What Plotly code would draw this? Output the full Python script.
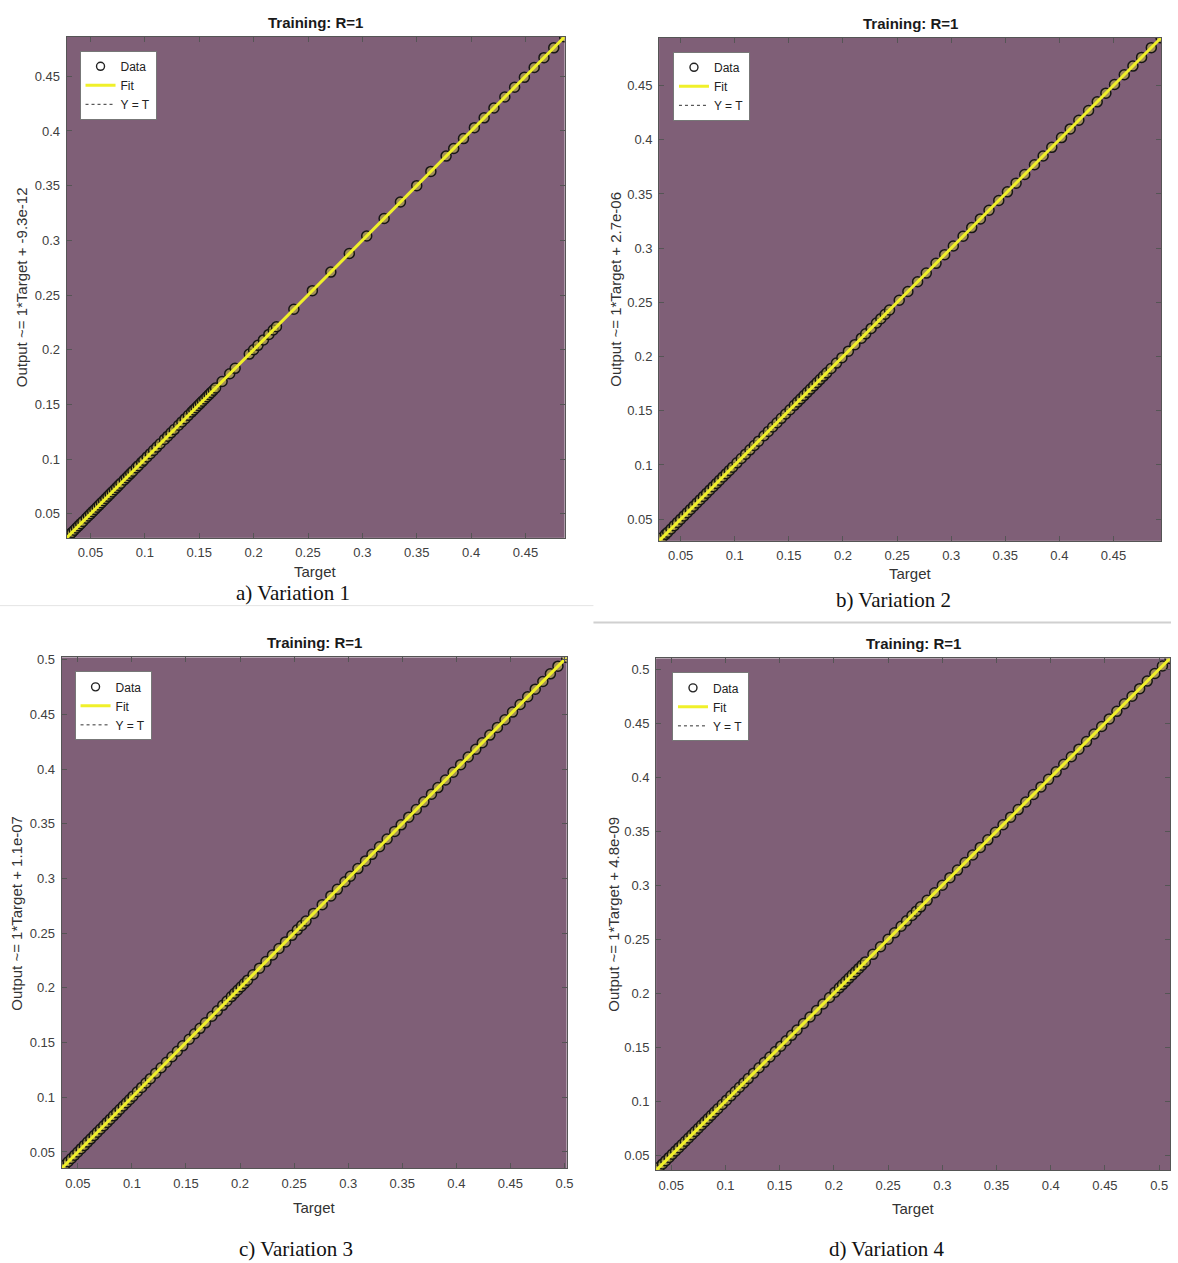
import plotly.graph_objects as go

# ---------------- data ----------------
targets_a = [0.028, 0.031, 0.033, 0.035, 0.037, 0.039, 0.041, 0.043, 0.046, 0.048, 0.050, 0.052,
             0.054, 0.056, 0.058, 0.060, 0.062, 0.064, 0.066, 0.068, 0.070, 0.072, 0.074, 0.076,
             0.078, 0.081, 0.083, 0.085, 0.087, 0.089, 0.092, 0.094, 0.097, 0.099, 0.102, 0.105,
             0.108, 0.111, 0.114, 0.118, 0.121, 0.124, 0.127, 0.131, 0.134, 0.137, 0.140, 0.143,
             0.145, 0.147, 0.149, 0.151, 0.153, 0.155, 0.157, 0.159, 0.161, 0.163, 0.165, 0.171,
             0.178, 0.183, 0.196, 0.200, 0.204, 0.209, 0.214, 0.218, 0.221, 0.237, 0.254, 0.271,
             0.288, 0.304, 0.320, 0.335, 0.350, 0.363, 0.377, 0.384, 0.393, 0.403, 0.412, 0.421,
             0.431, 0.440, 0.449, 0.458, 0.467, 0.476, 0.486]
targets_b = [0.030, 0.033, 0.036, 0.038, 0.041, 0.044, 0.047, 0.050, 0.053, 0.056, 0.059, 0.062,
             0.065, 0.068, 0.071, 0.074, 0.077, 0.080, 0.083, 0.086, 0.089, 0.092, 0.095, 0.098,
             0.102, 0.106, 0.110, 0.114, 0.118, 0.122, 0.127, 0.131, 0.135, 0.139, 0.143, 0.147,
             0.151, 0.155, 0.158, 0.161, 0.164, 0.167, 0.170, 0.173, 0.176, 0.179, 0.182, 0.185,
             0.189, 0.194, 0.199, 0.205, 0.211, 0.217, 0.221, 0.226, 0.231, 0.235, 0.239, 0.243,
             0.252, 0.260, 0.269, 0.277, 0.286, 0.294, 0.302, 0.311, 0.319, 0.327, 0.335, 0.344,
             0.352, 0.360, 0.368, 0.377, 0.385, 0.393, 0.402, 0.410, 0.418, 0.427, 0.435, 0.443,
             0.451, 0.460, 0.468, 0.476, 0.485, 0.494]
targets_c = [0.035, 0.038, 0.041, 0.044, 0.047, 0.050, 0.053, 0.056, 0.059, 0.062, 0.065, 0.068,
             0.071, 0.074, 0.077, 0.080, 0.083, 0.086, 0.089, 0.092, 0.095, 0.098, 0.101, 0.105,
             0.109, 0.113, 0.117, 0.122, 0.127, 0.132, 0.137, 0.142, 0.147, 0.153, 0.158, 0.163,
             0.168, 0.174, 0.179, 0.184, 0.188, 0.192, 0.195, 0.198, 0.201, 0.204, 0.207, 0.212,
             0.218, 0.224, 0.230, 0.236, 0.242, 0.248, 0.253, 0.257, 0.261, 0.268, 0.276, 0.284,
             0.290, 0.297, 0.302, 0.309, 0.316, 0.322, 0.329, 0.336, 0.343, 0.349, 0.356, 0.363,
             0.370, 0.377, 0.383, 0.390, 0.397, 0.404, 0.411, 0.418, 0.424, 0.431, 0.438, 0.445,
             0.452, 0.459, 0.466, 0.473, 0.480, 0.487, 0.494, 0.502]
targets_d = [0.036, 0.039, 0.042, 0.045, 0.048, 0.051, 0.054, 0.057, 0.060, 0.063, 0.066, 0.069,
             0.072, 0.075, 0.078, 0.081, 0.084, 0.087, 0.090, 0.093, 0.097, 0.101, 0.105, 0.109,
             0.113, 0.117, 0.121, 0.126, 0.131, 0.136, 0.141, 0.146, 0.151, 0.156, 0.161, 0.166,
             0.172, 0.178, 0.184, 0.190, 0.196, 0.201, 0.205, 0.208, 0.211, 0.214, 0.217, 0.220,
             0.223, 0.226, 0.229, 0.236, 0.243, 0.250, 0.256, 0.262, 0.267, 0.272, 0.276, 0.280,
             0.286, 0.293, 0.300, 0.307, 0.314, 0.321, 0.328, 0.335, 0.342, 0.349, 0.356, 0.363,
             0.370, 0.377, 0.384, 0.391, 0.398, 0.405, 0.412, 0.419, 0.426, 0.433, 0.440, 0.447,
             0.454, 0.461, 0.468, 0.475, 0.482, 0.489, 0.496, 0.503, 0.510]
# R = 1: outputs coincide with targets in every panel
outputs_a = list(targets_a)
outputs_b = list(targets_b)
outputs_c = list(targets_c)
outputs_d = list(targets_d)

titles = ["Training: R=1", "Training: R=1", "Training: R=1", "Training: R=1"]
ylabels = ["Output ~= 1*Target + -9.3e-12", "Output ~= 1*Target + 2.7e-06",
           "Output ~= 1*Target + 1.1e-07", "Output ~= 1*Target + 4.8e-09"]
captions = ["a) Variation 1", "b) Variation 2", "c) Variation 3", "d) Variation 4"]
legend_names = ["Data", "Fit", "Y = T"]

# ---------------- layout geometry (pixels) ----------------
W, H = 1178, 1263
def fx(px): return px / W
def fy(py): return 1 - py / H

panels = [
    dict(t=targets_a, o=outputs_a, box=(67, 568, 32, 535), ylab_x=22, xlab_y=569, cap=(295, 590), leg=(80, 46)),
    dict(t=targets_b, o=outputs_b, box=(663, 1168, 33, 538), ylab_x=619, xlab_y=571, cap=(899, 597), leg=(677, 47)),
    dict(t=targets_c, o=outputs_c, box=(62, 570, 655, 1168), ylab_x=17, xlab_y=1207, cap=(298, 1249), leg=(75, 669)),
    dict(t=targets_d, o=outputs_d, box=(660, 1177, 656, 1170), ylab_x=617, xlab_y=1208, cap=(892, 1249), leg=(676, 670)),
]

BG = "#7f5f77"
YEL = "#f0f02a"
SANS = "Liberation Sans, Arial, sans-serif"
SERIF = "Liberation Serif, Times New Roman, serif"

fig = go.Figure()
annotations = []
layout = {}

for i, p in enumerate(panels):
    k = "" if i == 0 else str(i + 1)
    xa, ya, lg = "x" + k, "y" + k, "legend" + k
    t, o = p["t"], p["o"]
    lo, hi = min(min(t), min(o)), max(max(t), max(o))
    # Y = T line
    fig.add_trace(go.Scatter(x=[lo, hi], y=[lo, hi], mode="lines", xaxis=xa, yaxis=ya,
                             line=dict(color="black", width=1, dash="dot"), showlegend=False, hoverinfo="skip"))
    # data points
    fig.add_trace(go.Scatter(x=t, y=o, mode="markers", xaxis=xa, yaxis=ya, showlegend=False,
                             marker=dict(symbol="circle", size=10, color="rgba(185,175,70,0.6)",
                                         line=dict(color="#161616", width=1.5))))
    # fit line
    fig.add_trace(go.Scatter(x=[lo, hi], y=[lo, hi], mode="lines", xaxis=xa, yaxis=ya,
                             line=dict(color=YEL, width=3), showlegend=False, hoverinfo="skip"))
    # legend entries
    fig.add_trace(go.Scatter(x=[None], y=[None], mode="markers", xaxis=xa, yaxis=ya, legend=lg,
                             name=legend_names[0],
                             marker=dict(symbol="circle-open", size=8, color="#222", line=dict(width=1.4))))
    fig.add_trace(go.Scatter(x=[None], y=[None], mode="lines", xaxis=xa, yaxis=ya, legend=lg,
                             name=legend_names[1], line=dict(color=YEL, width=3)))
    fig.add_trace(go.Scatter(x=[None], y=[None], mode="lines", xaxis=xa, yaxis=ya, legend=lg,
                             name=legend_names[2], line=dict(color="#333", width=1, dash="dot")))

    x0, x1, y0, y1 = p["box"]
    axis_common = dict(showgrid=False, zeroline=False, showline=True, linecolor="#555", linewidth=1,
                       ticks="inside", ticklen=5, tickcolor="#555", mirror="allticks",
                       tick0=0.05, dtick=0.05, range=[lo, hi], ticklabelstandoff=3,
                       tickfont=dict(family=SANS, size=13, color="#404040"))
    layout["xaxis" + k] = dict(axis_common, domain=[fx(x0), fx(x1)], anchor=ya)
    layout["yaxis" + k] = dict(axis_common, domain=[fy(y1), fy(y0)], anchor=xa)
    layout[lg] = dict(x=fx(p["leg"][0]), y=fy(p["leg"][1]), xanchor="left", yanchor="top",
                      bgcolor="white", bordercolor="#777", borderwidth=1,
                      font=dict(family=SANS, size=12, color="#222"), tracegroupgap=0,
                      itemwidth=30)

    cx = (x0 + x1) / 2
    annotations.append(dict(text="<b>" + titles[i] + "</b>", x=fx(cx), y=fy(y0 - 4), xref="paper", yref="paper",
                            xanchor="center", yanchor="bottom", showarrow=False,
                            font=dict(family=SANS, size=15, color="#1a1a1a")))
    annotations.append(dict(text="Target", x=fx(cx), y=fy(p["xlab_y"]), xref="paper", yref="paper",
                            xanchor="center", yanchor="middle", showarrow=False,
                            font=dict(family=SANS, size=15, color="#333")))
    annotations.append(dict(text=ylabels[i], x=fx(p["ylab_x"]), y=fy((y0 + y1) / 2), xref="paper", yref="paper",
                            xanchor="center", yanchor="middle", showarrow=False, textangle=-90,
                            font=dict(family=SANS, size=15, color="#333")))
    annotations.append(dict(text=captions[i], x=fx(p["cap"][0]), y=fy(p["cap"][1]), xref="paper", yref="paper",
                            xanchor="center", yanchor="middle", showarrow=False,
                            font=dict(family=SERIF, size=21, color="#111")))

shapes = [
    dict(type="line", xref="paper", yref="paper", x0=0, x1=fx(597), y0=fy(603), y1=fy(603),
         line=dict(color="#e4e4e4", width=1)),
    dict(type="line", xref="paper", yref="paper", x0=fx(597), x1=1, y0=fy(620), y1=fy(620),
         line=dict(color="#d0d0d0", width=2)),
]

fig.update_layout(
    width=W, height=H, margin=dict(l=0, r=0, t=0, b=0),
    paper_bgcolor="white", plot_bgcolor=BG,
    annotations=annotations, shapes=shapes, **layout,
)

fig.write_html("out.html")
